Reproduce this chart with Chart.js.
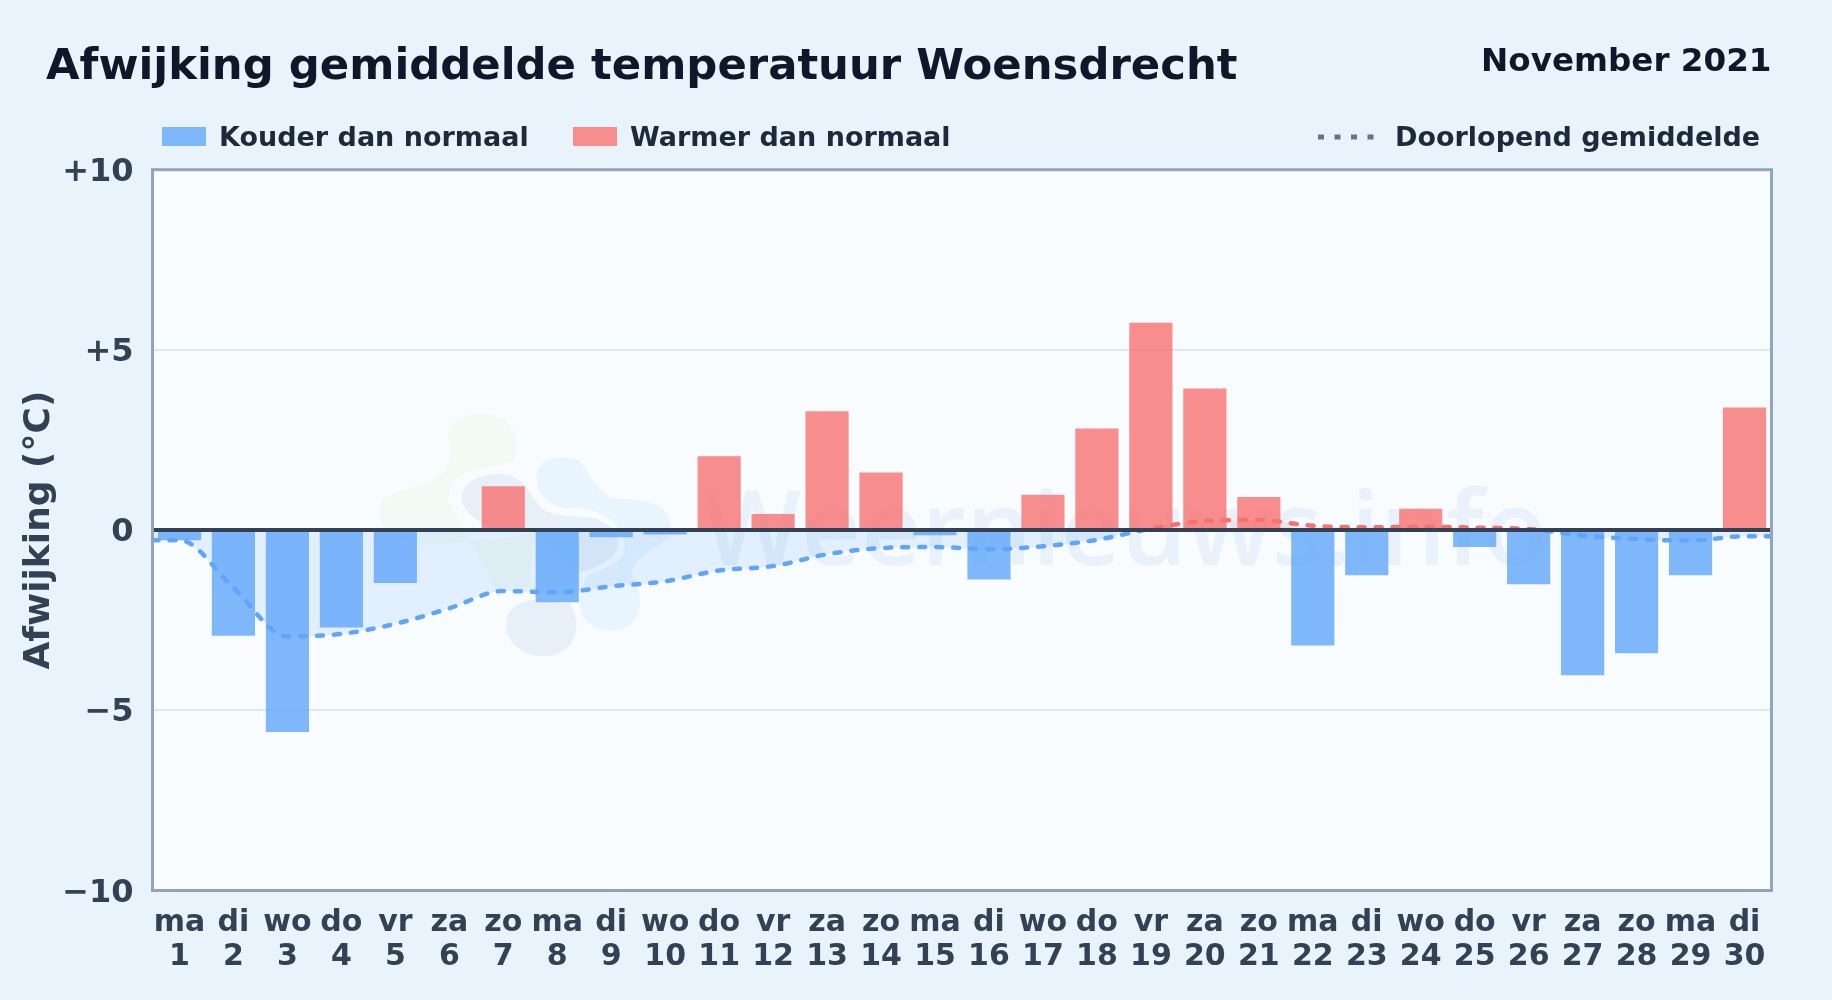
<!DOCTYPE html>
<html lang="nl">
<head>
<meta charset="utf-8">
<title>Afwijking gemiddelde temperatuur Woensdrecht</title>
<script src="https://cdn.jsdelivr.net/npm/chart.js@4/dist/chart.umd.min.js"></script>
<style>
  html, body { margin: 0; padding: 0; background: #e8f3fc; }
  body { width: 1832px; height: 1000px; position: relative; overflow: hidden; font-family: "DejaVu Sans", sans-serif; font-weight: bold; }
  #myChart { position: absolute; left: 0; top: 0; }
  .txt { position: absolute; white-space: nowrap; line-height: 1; }
  #titel { left: 46px; top: 43px; font-size: 43.35px; color: #0f172a; }
  #maand { right: 60.5px; top: 44px; font-size: 32.6px; color: #0f172a; }
  .leg { font-size: 27px; color: #1e293b; top: 123px; }
  .vak { position: absolute; top: 127px; height: 19px; width: 44px; }
</style>
</head>
<body>
<canvas id="myChart" width="1832" height="1000"></canvas>
<div class="txt" id="titel">Afwijking gemiddelde temperatuur Woensdrecht</div>
<div class="txt" id="maand">November 2021</div>
<div class="vak" style="left:162px;background:#7eb6fa"></div>
<div class="txt leg" style="left:219px">Kouder dan normaal</div>
<div class="vak" style="left:573px;background:#f88d8d"></div>
<div class="txt leg" style="left:630px">Warmer dan normaal</div>
<svg style="position:absolute;left:1316px;top:130px" width="62" height="14"><line x1="2" y1="7" x2="60" y2="7" stroke="#64748b" stroke-width="5" stroke-dasharray="6 10.5"/></svg>
<div class="txt leg" style="left:1395px">Doorlopend gemiddelde</div>

<script>
const dagen = ['ma','di','wo','do','vr','za','zo','ma','di','wo','do','vr','za','zo','ma','di','wo','do','vr','za','zo','ma','di','wo','do','vr','za','zo','ma','di'];
const dagNummers = [1,2,3,4,5,6,7,8,9,10,11,12,13,14,15,16,17,18,19,20,21,22,23,24,25,26,27,28,29,30];
const afwijking = [-0.28,-2.93,-5.6,-2.7,-1.47,0,1.22,-2.0,-0.2,-0.12,2.05,0.45,3.3,1.6,-0.14,-1.37,0.98,2.82,5.75,3.93,0.92,-3.2,-1.25,0.59,-0.47,-1.5,-4.03,-3.42,-1.25,3.4];
const gemiddelde = [-0.28,-1.6,-2.95,-2.88,-2.6,-2.17,-1.69,-1.73,-1.56,-1.42,-1.12,-1.0,-0.67,-0.5,-0.47,-0.53,-0.45,-0.27,0.04,0.25,0.28,0.12,0.08,0.09,0.07,0.03,-0.15,-0.25,-0.29,-0.17];

const koud = 'rgba(96,165,250,0.8)';
const warm = 'rgba(248,113,113,0.8)';

// de lijn loopt door tot aan de randen van het plotvlak, daarom een lineaire x-as
const lijnData = [{x: 0.5, y: gemiddelde[0]}]
  .concat(gemiddelde.map((v, i) => ({x: dagNummers[i], y: v})))
  .concat([{x: 30.5, y: gemiddelde[gemiddelde.length - 1]}]);
const staafData = afwijking.map((v, i) => ({x: dagNummers[i], y: v}));

// achtergrond van het plotvlak + watermerk (paden in 3x coordinaten)
const logoVormen = [
  ['#f3f9f3', 'M262 130 C275 85 340 60 400 75 C450 90 490 150 465 200 C445 235 370 225 320 245 C275 265 255 310 275 355 C300 410 350 470 400 590 C440 600 510 590 510 590 L520 430 L400 450 C350 440 250 470 180 465 C110 450 50 420 58 360 C70 310 130 300 200 280 C250 260 275 220 270 170 Z'],
  ['#e9f5fe', 'M530 250 C535 210 600 190 650 210 C690 230 690 290 750 320 C800 335 870 320 910 360 C940 395 940 440 900 465 C860 485 820 510 815 560 C850 600 850 670 810 705 C770 735 700 725 670 680 C650 640 660 600 680 560 C740 530 790 520 795 470 C790 400 720 350 640 355 C570 360 525 310 530 250 Z'],
  ['#e7eff8', 'M305 320 C310 270 380 245 440 255 C500 265 510 320 540 350 C580 385 640 375 700 385 C755 400 785 440 770 480 C750 520 700 535 650 550 L525 425 C480 410 400 430 340 380 C315 360 305 345 305 320 Z'],
  ['#e7eff8', 'M440 690 C445 650 490 630 525 630 L630 640 C650 680 665 730 620 775 C570 815 500 800 465 765 C445 745 435 720 440 690 Z']
];
const achtergrond = {
  id: 'achtergrond',
  beforeDraw(chart) {
    const {ctx, chartArea: a} = chart;
    ctx.save();
    ctx.fillStyle = '#f8fcff';
    ctx.fillRect(a.left, a.top, a.right - a.left, a.bottom - a.top);
    ctx.save();
    ctx.translate(360, 390);
    ctx.scale(1 / 3, 1 / 3);
    logoVormen.forEach(([kleur, pad]) => {
      ctx.fillStyle = kleur;
      ctx.fill(new Path2D(pad));
    });
    ctx.restore();
    ctx.fillStyle = '#e9f2fa';
    ctx.font = '600 104px "Open Sans", sans-serif';
    ctx.textBaseline = 'alphabetic';
    ctx.fillText('Weernieuws.info', 703, 565);
    ctx.restore();
  }
};

// nullijn en rand bovenop de staven
const kader = {
  id: 'kader',
  afterDatasetsDraw(chart) {
    const {ctx, chartArea: a, scales} = chart;
    const y0 = scales.y.getPixelForValue(0);
    ctx.save();
    ctx.strokeStyle = '#334155';
    ctx.lineWidth = 4;
    ctx.beginPath();
    ctx.moveTo(a.left, y0);
    ctx.lineTo(a.right, y0);
    ctx.stroke();
    ctx.strokeStyle = '#94a3b8';
    ctx.lineWidth = 3;
    ctx.strokeRect(a.left, a.top, a.right - a.left, a.bottom - a.top);
    ctx.restore();
  }
};

function lijnKleur(context) {
  const chart = context.chart;
  if (!chart.chartArea) return '#60a5fa';
  const a = chart.chartArea;
  const s = (chart.scales.y.getPixelForValue(0) - a.top) / (a.bottom - a.top);
  const g = chart.ctx.createLinearGradient(0, a.top, 0, a.bottom);
  g.addColorStop(0, '#f87171');
  g.addColorStop(s, '#f87171');
  g.addColorStop(s, '#60a5fa');
  g.addColorStop(1, '#60a5fa');
  return g;
}

new Chart(document.getElementById('myChart').getContext('2d'), {
  type: 'bar',
  data: {
    datasets: [
      {
        type: 'line',
        label: 'Doorlopend gemiddelde',
        data: lijnData,
        order: 1,
        borderColor: lijnKleur,
        borderWidth: 4.5,
        borderDash: [6, 11],
        borderCapStyle: 'round',
        cubicInterpolationMode: 'monotone',
        pointRadius: 0,
        fill: {target: {value: 0}, above: 'rgba(248,113,113,0.12)', below: 'rgba(96,165,250,0.15)'}
      },
      {
        type: 'bar',
        label: 'Afwijking',
        data: staafData,
        order: 2,
        backgroundColor: afwijking.map(v => v < 0 ? koud : warm),
        barPercentage: 0.8,
        categoryPercentage: 1
      }
    ]
  },
  options: {
    responsive: false,
    animation: false,
    layout: { padding: { top: 169.7, right: 60.5, left: 0, bottom: 0 } },
    plugins: { legend: { display: false }, tooltip: { enabled: false } },
    scales: {
      x: {
        type: 'linear',
        min: 0.5, max: 30.5,
        offset: false,
        grid: { display: false },
        border: { display: false },
        afterBuildTicks(scale) { scale.ticks = dagNummers.map(d => ({value: d})); },
        ticks: {
          color: '#334155', font: { family: 'DejaVu Sans', size: 30, weight: 'bold', lineHeight: 1.13 },
          padding: 8, autoSkip: false, maxRotation: 0,
          callback: v => [dagen[v - 1], String(v)]
        },
        afterFit(scale) { scale.height = 109.5; }
      },
      y: {
        min: -10, max: 10,
        grid: { color: '#e2e8f0', lineWidth: 2, drawTicks: false },
        border: { display: false },
        ticks: {
          stepSize: 5, color: '#334155', padding: 19,
          // lege eerste regel + kleine regelhoogte: label iets lager dan het midden
          font: { family: 'DejaVu Sans', size: 32, weight: 'bold', lineHeight: 0.18 },
          callback: v => ['', v > 0 ? '+' + v : (v < 0 ? '\u2212' + (-v) : '0')]
        },
        title: {
          display: true, text: 'Afwijking (°C)', color: '#334155',
          font: { family: 'DejaVu Sans', size: 36, weight: 'bold' }, padding: { top: 18, bottom: 0 }
        },
        afterFit(scale) { scale.width = 152.5; }
      }
    }
  },
  plugins: [achtergrond, kader]
});
</script>
</body>
</html>
